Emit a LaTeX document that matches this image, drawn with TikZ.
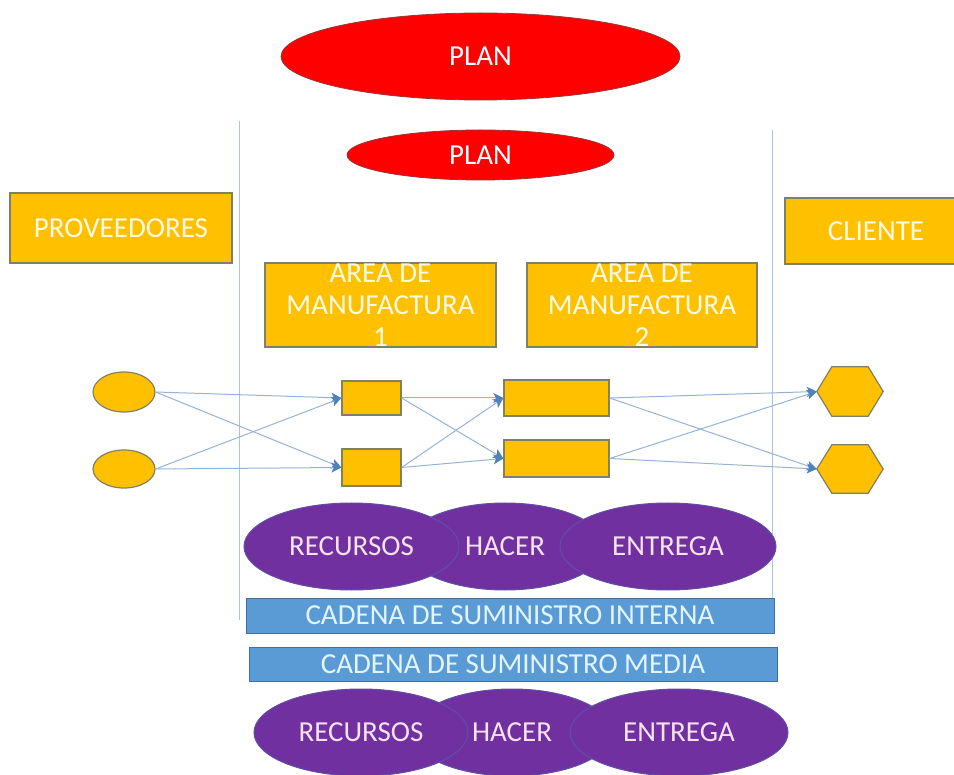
\documentclass[tikz,border=0pt]{standalone}
\usepackage{fontspec}
\setmainfont{Carlito}
\usetikzlibrary{arrows.meta,shapes.geometric}
\definecolor{orangeF}{RGB}{255,192,0}
\definecolor{orangeD}{RGB}{128,128,100}
\definecolor{orangeT}{RGB}{255,250,230}
\definecolor{redF}{RGB}{255,0,0}
\definecolor{redD}{RGB}{150,55,55}
\definecolor{purpF}{RGB}{112,48,160}
\definecolor{purpD}{RGB}{95,80,165}
\definecolor{purpT}{RGB}{248,225,240}
\definecolor{barF}{RGB}{91,155,213}
\definecolor{barD}{RGB}{65,113,156}
\definecolor{barT}{RGB}{225,245,255}
\definecolor{arrowL}{RGB}{149,179,215}
\definecolor{arrowT}{RGB}{79,129,189}
\definecolor{vlineC}{RGB}{170,195,225}
\begin{document}
\begin{tikzpicture}[x=1pt,y={(0pt,-1pt)},
  txt/.style={font=\fontsize{29}{32}\selectfont},
  obox/.style={rectangle, draw=orangeD, line width=1.2pt, fill=orangeF, text=orangeT, inner sep=0pt, txt, align=center},
  oell/.style={ellipse, draw=orangeD, line width=1.2pt, fill=orangeF, inner sep=0pt},
  hexn/.style={rectangle, inner sep=0pt},
  hexs/.style={draw=orangeD, line width=1.2pt, fill=orangeF},
  redell/.style={ellipse, draw=redD, line width=0.8pt, fill=redF, text=white, inner sep=0pt, txt},
  purell/.style={ellipse, draw=purpD, line width=1pt, fill=purpF, text=purpT, inner sep=0pt, txt},
  barbox/.style={rectangle, draw=barD, line width=1pt, fill=barF, text=barT, inner sep=0pt, txt},
  link/.style={draw=arrowL, line width=1pt, -{Stealth[length=10pt,width=10pt,inset=2.5pt,color=arrowT]}},
  vl/.style={draw=vlineC, line width=1pt}]
\path[use as bounding box] (0,0) rectangle (954,775);
\clip (0,0) rectangle (954,775);

% vertical separators
\coordinate (lt) at (239,121);
\coordinate (lb) at (239,620);
\coordinate (rt) at (772,130);
\coordinate (rb) at (772,632);
\draw[vl] (lt) -- (lb);
\draw[vl] (rt) -- (rb);

% plans
\node[redell, minimum width=399pt, minimum height=87pt] (plan1) at (480.5,56.5) {PLAN};
\node[redell, minimum width=267pt, minimum height=50pt] (plan2) at (480.5,155) {PLAN};

% boxes
\node[obox, minimum width=222pt, minimum height=70pt] (prov) at (121,228) {PROVEEDORES};
\node[obox, minimum width=182pt, minimum height=66pt] (cli) at (876,231) {CLIENTE};
\node[obox, minimum width=231pt, minimum height=84pt] (a1) at (380.5,305) {AREA DE\\MANUFACTURA\\1};
\node[obox, minimum width=230pt, minimum height=84pt] (a2) at (642,305) {AREA DE\\MANUFACTURA\\2};

% flow shapes
\node[oell, minimum width=62pt, minimum height=40pt] (e1) at (124,392) {};
\node[oell, minimum width=62pt, minimum height=38pt] (e2) at (124,469) {};
\node[obox, minimum width=59pt, minimum height=34pt] (b1) at (371.5,398) {};
\node[obox, minimum width=59pt, minimum height=37pt] (b2) at (371.5,467.5) {};
\node[obox, minimum width=105pt, minimum height=36pt] (c1) at (556.5,398) {};
\node[obox, minimum width=105pt, minimum height=37pt] (c2) at (556.5,458.5) {};
\node[hexn, minimum width=66pt, minimum height=49pt] (h1) at (850,391.5) {};
\node[hexn, minimum width=66pt, minimum height=48pt] (h2) at (850,469) {};
\foreach \h in {h1,h2}{
  \draw[hexs] (\h.west) -- ([xshift=15pt]\h.north west) -- ([xshift=-15pt]\h.north east)
    -- (\h.east) -- ([xshift=-15pt]\h.south east) -- ([xshift=15pt]\h.south west) -- cycle;
}

% connectors
\draw[link] (e1.east) -- (b1.west);
\draw[link] (e1.east) -- (b2.west);
\draw[link] (e2.east) -- (b1.west);
\draw[link] (e2.east) -- (b2.west);
\draw[link] (b1.east) -- (c1.west);
\draw[link] (b1.east) -- (c2.west);
\draw[link] (b2.east) -- (c1.west);
\draw[link] (b2.east) -- (c2.west);
\draw[link] (c1.east) -- (h1.west);
\draw[link] (c1.east) -- (h2.west);
\draw[link] (c2.east) -- (h1.west);
\draw[link] (c2.east) -- (h2.west);

% internal chain
\node[purell, minimum width=200pt, minimum height=87pt] (hac1) at (505,546.5) {HACER};
\node[purell, minimum width=215pt, minimum height=87pt] (rec1) at (351.5,546.5) {RECURSOS};
\node[purell, minimum width=216pt, minimum height=87pt] (ent1) at (668,546.5) {ENTREGA};
\node[barbox, minimum width=528pt, minimum height=35pt] (int) at (510,615.5) {CADENA DE SUMINISTRO INTERNA};
\node[barbox, minimum width=528pt, minimum height=34pt] (med) at (513,664) {CADENA DE SUMINISTRO MEDIA};
\node[purell, minimum width=200pt, minimum height=87pt] (hac2) at (512,732.5) {HACER};
\node[purell, minimum width=214pt, minimum height=87pt] (rec2) at (361,732.5) {RECURSOS};
\node[purell, minimum width=218pt, minimum height=87pt] (ent2) at (679,732.5) {ENTREGA};
\end{tikzpicture}
\end{document}
